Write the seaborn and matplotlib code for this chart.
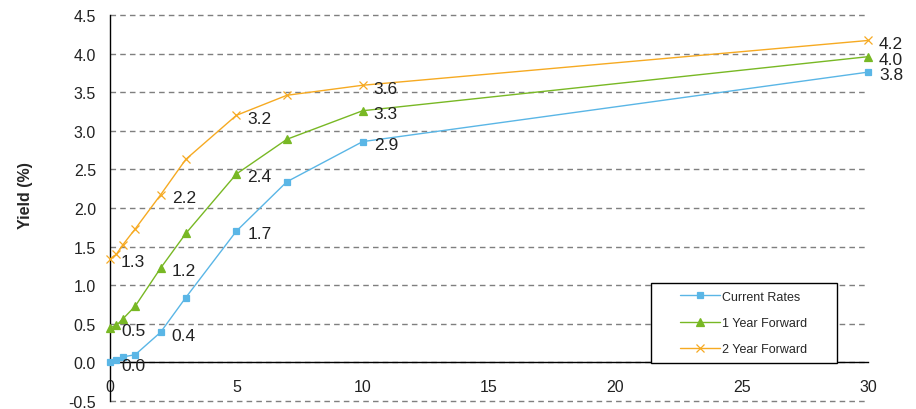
import matplotlib
matplotlib.use("Agg")
import matplotlib.pyplot as plt
from matplotlib.patches import Rectangle
import seaborn as sns
import pandas as pd

# maturities (years) and yields (%)
maturity = [0, 0.25, 0.5, 1, 2, 3, 5, 7, 10, 30]
current_rates = [0.00, 0.03, 0.07, 0.10, 0.39, 0.84, 1.70, 2.34, 2.86, 3.76]
one_year_fwd = [0.45, 0.48, 0.56, 0.73, 1.22, 1.67, 2.44, 2.89, 3.26, 3.96]
two_year_fwd = [1.34, 1.40, 1.52, 1.73, 2.17, 2.63, 3.20, 3.46, 3.59, 4.17]
series_names = ["Current Rates", "1 Year Forward", "2 Year Forward"]
label_maturities = [0, 2, 5, 10, 30]

sns.set_style("white")
plt.rcParams["font.family"] = ["Liberation Sans", "DejaVu Sans"]

df = pd.DataFrame({
    "Maturity": maturity * 3,
    "Yield": current_rates + one_year_fwd + two_year_fwd,
    "Series": [s for s in series_names for _ in maturity],
})

colors = {"Current Rates": "#5AB6E6", "1 Year Forward": "#78B824", "2 Year Forward": "#F6AA22"}
markers = {"Current Rates": "s", "1 Year Forward": "^", "2 Year Forward": "x"}
msizes = {"Current Rates": 5, "1 Year Forward": 6, "2 Year Forward": 5.5}

fig = plt.figure(figsize=(9.16, 4.10), dpi=100)
ax = fig.add_axes([110 / 916, 1 - 402 / 410, 758 / 916, 386 / 410])

for name in series_names:
    sub = df[df["Series"] == name]
    sns.lineplot(data=sub, x="Maturity", y="Yield", ax=ax, color=colors[name],
                 marker=markers[name], markersize=msizes[name], linewidth=1,
                 markeredgecolor=colors[name], markeredgewidth=0.9, label=name,
                 zorder=3, clip_on=False)
    for _, row in sub[sub["Maturity"].isin(label_maturities)].iterrows():
        ax.annotate(f"{row['Yield']:.1f}", (row["Maturity"], row["Yield"]),
                    xytext=(8, -2), textcoords="offset points", ha="left",
                    va="center", fontsize=12.5, color="#222222", zorder=4)

ax.set_xlim(0, 30)
ax.set_ylim(-0.5, 4.5)
ax.set_xticks(range(0, 31, 5))
ax.set_yticks([-0.5 + 0.5 * i for i in range(11)])
ax.set_yticklabels([f"{-0.5 + 0.5 * i:.1f}" for i in range(11)])

ax.yaxis.grid(True, linestyle=(0, (4, 3)), color="#7f7f7f", linewidth=1)
ax.set_axisbelow(True)
for s in ["top", "right"]:
    ax.spines[s].set_visible(False)
ax.spines["bottom"].set_position(("data", 0))
ax.spines["bottom"].set_zorder(2)
for s in ["left", "bottom"]:
    ax.spines[s].set_color("black")
    ax.spines[s].set_linewidth(1)
ax.tick_params(axis="x", direction="out", length=3, pad=9, labelsize=11.5, colors="black")
ax.tick_params(axis="y", direction="out", length=4, pad=6, labelsize=11.5, colors="black")
ax.tick_params(axis="both", labelcolor="#222222")

ax.set_xlabel("")
ax.set_ylabel("Yield (%)", fontsize=11.5, fontweight="bold")
ax.yaxis.set_label_coords(-0.101, 0.536)

# legend box
ax.add_patch(Rectangle((0.714, 0.0984), 0.245, 0.2073, transform=ax.transAxes,
                       facecolor="white", edgecolor="black", linewidth=1, zorder=4))
handles, labels = ax.get_legend_handles_labels()
leg = ax.legend(handles, labels, loc="center", bbox_to_anchor=(0.8364, 0.202),
                frameon=False, fontsize=9, handlelength=3.2, labelspacing=1.15,
                handletextpad=0.15)
leg.set_zorder(5)

fig.canvas.draw()
for gl in ax.yaxis.get_gridlines():
    gl.set_clip_on(False)

fig.savefig("out.png", dpi=100)
